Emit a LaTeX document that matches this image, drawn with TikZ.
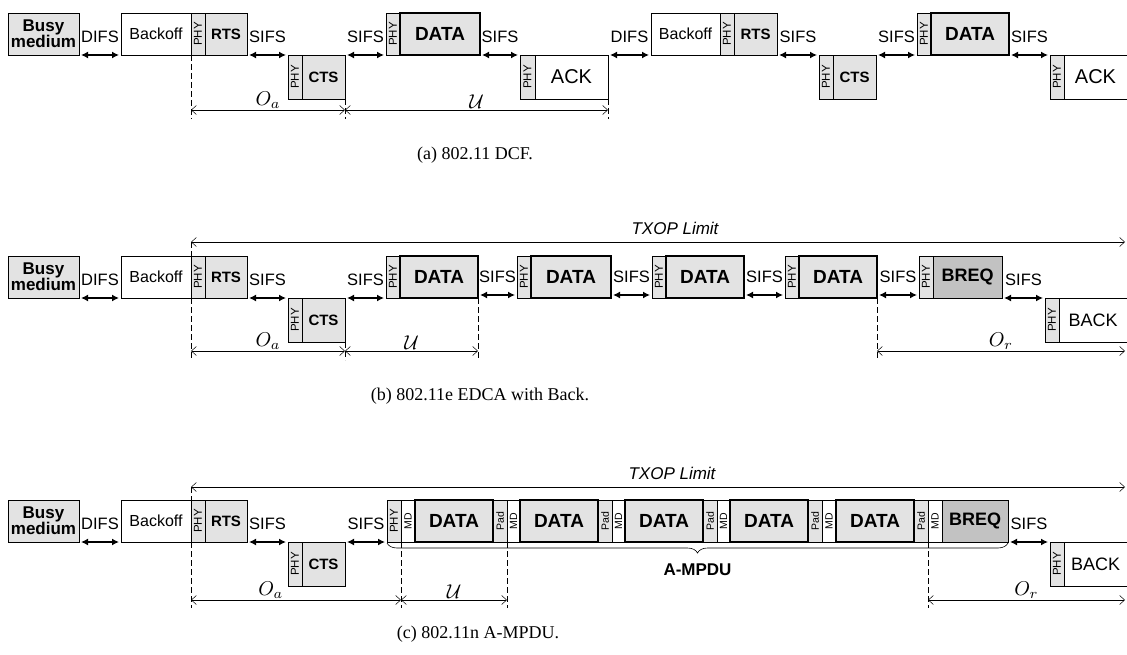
\documentclass[tikz,border=0pt]{standalone}
\usepackage{fontspec}
\setmainfont{Liberation Serif}
\setsansfont{Liberation Sans}
\usetikzlibrary{arrows.meta, decorations.pathreplacing}
\newcommand{\vtxt}[1]{\rotatebox{90}{#1}}
\newcommand{\ovl}[1]{\scalebox{2}{$#1$}}

\begin{document}
\begin{tikzpicture}[x=1pt, y=-1pt,
  fr/.style={draw, line width=0.6pt, inner sep=0pt, outer sep=0pt,
             anchor=north west, font=\sffamily\fontsize{16}{16}\selectfont},
  up/.style={fr, minimum height=42pt},
  dn/.style={fr, minimum height=44pt},
  htone/.style={fill=gray!22},
  busy/.style={up, htone, align=center, minimum width=71pt,
               font=\sffamily\bfseries\fontsize{17}{16}\selectfont},
  hdr/.style={htone, minimum width=14pt, font=\sffamily\fontsize{11.5}{11.5}\selectfont},
  dlm/.style={minimum width=14pt, font=\sffamily\fontsize{10.5}{10.5}\selectfont},
  ctl/.style={htone, font=\sffamily\bfseries\fontsize{15}{15}\selectfont},
  pay/.style={htone, line width=2pt, font=\sffamily\bfseries\fontsize{19}{19}\selectfont},
  req/.style={fill=gray!48, font=\sffamily\bfseries\fontsize{18}{18}\selectfont},
  opn/.style={dn, draw=none},
  gap/.style={line width=2pt, {Latex[length=7pt,width=7pt]}-{Latex[length=7pt,width=7pt]},
              shorten <=2pt, shorten >=2pt},
  ifs/.style={midway, above=11pt, inner sep=0pt,
              font=\sffamily\fontsize{16.5}{16.5}\selectfont},
  dim/.style={line width=0.5pt,
              {Straight Barb[length=5pt,width=9pt]}-{Straight Barb[length=5pt,width=9pt]}},
  tick/.style={line width=0.6pt, dash pattern=on 6pt off 3pt},
  ovh/.style={midway, above=1pt, inner sep=0pt},
  lim/.style={font=\sffamily\itshape\fontsize{17}{17}\selectfont},
  capt/.style={font=\fontsize{18}{18}\selectfont},
  brc/.style={decorate, line width=0.6pt, decoration={brace, mirror, amplitude=10pt}},
]
\useasboundingbox (0,0) rectangle (1127,655);

% (a) 802.11 DCF
\node[busy] (a-busy) at (8,13) {Busy\\medium};
\node[up, minimum width=70pt] (a-bo1) at (121,13) {Backoff};
\node[up, hdr] (a-h1) at (191,13) {\vtxt{PHY}};
\node[up, ctl, minimum width=42pt] (a-rts1) at (205,13) {RTS};
\node[dn, hdr] (a-h2) at (288,55) {\vtxt{PHY}};
\node[dn, ctl, minimum width=43pt] (a-cts1) at (302,55) {CTS};
\node[up, hdr] (a-h3) at (386,13) {\vtxt{PHY}};
\node[up, pay, minimum width=80pt] (a-d1) at (400,13) {DATA};
\node[dn, hdr, minimum width=15pt] (a-h4) at (520,55) {\vtxt{PHY}};
\node[dn, minimum width=73pt, font=\sffamily\fontsize{20}{20}\selectfont] (a-ack1) at (535,55) {ACK};
\node[up, minimum width=69pt] (a-bo2) at (651,13) {Backoff};
\node[up, hdr] (a-h5) at (720,13) {\vtxt{PHY}};
\node[up, ctl, minimum width=43pt] (a-rts2) at (734,13) {RTS};
\node[dn, hdr] (a-h6) at (819,55) {\vtxt{PHY}};
\node[dn, ctl, minimum width=43pt] (a-cts2) at (833,55) {CTS};
\node[up, hdr] (a-h7) at (917,13) {\vtxt{PHY}};
\node[up, pay, minimum width=78pt] (a-d2) at (931,13) {DATA};
\node[dn, hdr] (a-h8) at (1050,55) {\vtxt{PHY}};
\node[opn, minimum width=63pt, font=\sffamily\fontsize{20}{20}\selectfont] (a-ack2) at (1064,55) {ACK};
\draw[line width=0.6pt] (a-ack2.north west) -- (a-ack2.north east);
\draw[line width=0.6pt] (a-ack2.south west) -- (a-ack2.south east);

\draw[gap] (a-busy.south east) -- (a-bo1.south west) node[ifs] (a-l1) {DIFS};
\draw[gap] (a-rts1.south east) -- (a-h2.north west) node[ifs] (a-l2) {SIFS};
\draw[gap] (a-cts1.north east) -- (a-h3.south west) node[ifs] (a-l3) {SIFS};
\draw[gap] (a-d1.south east) -- (a-h4.north west) node[ifs] (a-l4) {SIFS};
\draw[gap] (a-ack1.north east) -- (a-bo2.south west) node[ifs] (a-l5) {DIFS};
\draw[gap] (a-rts2.south east) -- (a-h6.north west) node[ifs] (a-l6) {SIFS};
\draw[gap] (a-cts2.north east) -- (a-h7.south west) node[ifs] (a-l7) {SIFS};
\draw[gap] (a-d2.south east) -- (a-h8.north west) node[ifs] (a-l8) {SIFS};

\coordinate (a-dm) at (0,110);
\coordinate (a-lo) at (0,119);
\draw[tick] (a-h1.south west) -- (a-h1.south west |- a-lo);
\draw[tick] (a-cts1.south east) -- (a-cts1.south east |- a-lo);
\draw[tick] (a-ack1.south east) -- (a-ack1.south east |- a-lo);
\draw[dim] (a-h1.west |- a-dm) -- (a-cts1.east |- a-dm) node[ovh] (a-oa) {\ovl{O_a}};
\draw[dim] (a-cts1.east |- a-dm) -- (a-ack1.east |- a-dm) node[ovh] (a-u) {\ovl{\mathcal{U}}};
\node[capt] (a-cap) at (475,155) {(a) 802.11 DCF.};

% (b) 802.11e EDCA with Back
\begin{scope}[yshift=-243pt]
\coordinate (b-tx) at (0,-1);
\coordinate (b-txr) at (1125,-1);
\coordinate (b-dm) at (0,108);
\coordinate (b-lo) at (0,117);
\coordinate (b-end) at (1125,108);
\node[busy] (b-busy) at (8,13) {Busy\\medium};
\node[up, minimum width=70pt] (b-bo) at (121,13) {Backoff};
\node[up, hdr] (b-h1) at (191,13) {\vtxt{PHY}};
\node[up, ctl, minimum width=42pt] (b-rts) at (205,13) {RTS};
\node[dn, hdr] (b-h2) at (288,55) {\vtxt{PHY}};
\node[dn, ctl, minimum width=43pt] (b-cts) at (302,55) {CTS};
\node[up, hdr] (b-h3) at (386,13) {\vtxt{PHY}};
\node[up, pay, minimum width=78pt] (b-d1) at (400,13) {DATA};
\node[up, hdr] (b-h4) at (517,13) {\vtxt{PHY}};
\node[up, pay, minimum width=80pt] (b-d2) at (531,13) {DATA};
\node[up, hdr] (b-h5) at (652,13) {\vtxt{PHY}};
\node[up, pay, minimum width=78pt] (b-d3) at (666,13) {DATA};
\node[up, hdr] (b-h6) at (785,13) {\vtxt{PHY}};
\node[up, pay, minimum width=78pt] (b-d4) at (799,13) {DATA};
\node[up, hdr] (b-h7) at (919,13) {\vtxt{PHY}};
\node[up, req, minimum width=69pt] (b-rq) at (933,13) {BREQ};
\node[dn, hdr] (b-h8) at (1045,55) {\vtxt{PHY}};
\node[opn, minimum width=68pt, font=\sffamily\fontsize{18}{18}\selectfont] (b-bk) at (1059,55) {BACK};
\draw[line width=0.6pt] (b-bk.north west) -- (b-bk.north east);
\draw[line width=0.6pt] (b-bk.south west) -- (b-bk.south east);

\draw[gap] (b-busy.south east) -- (b-bo.south west) node[ifs] (b-l1) {DIFS};
\draw[gap] (b-rts.south east) -- (b-h2.north west) node[ifs] (b-l2) {SIFS};
\draw[gap] (b-cts.north east) -- (b-h3.south west) node[ifs] (b-l3) {SIFS};
\draw[gap] ([yshift=3pt]b-d1.south east) -- ([yshift=3pt]b-h4.south west) node[ifs] (b-l4) {SIFS};
\draw[gap] ([yshift=3pt]b-d2.south east) -- ([yshift=3pt]b-h5.south west) node[ifs] (b-l5) {SIFS};
\draw[gap] ([yshift=3pt]b-d3.south east) -- ([yshift=3pt]b-h6.south west) node[ifs] (b-l6) {SIFS};
\draw[gap] ([yshift=3pt]b-d4.south east) -- ([yshift=3pt]b-h7.south west) node[ifs] (b-l7) {SIFS};
\draw[gap] (b-rq.south east) -- (b-h8.north west) node[ifs] (b-l8) {SIFS};

\draw[dim] (b-h1.north west |- b-tx) -- (b-txr);
\node[lim] (b-lim) at (675,-15) {TXOP Limit};
\draw[tick] (b-h1.north west |- b-tx) -- (b-h1.north west);
\draw[tick] (b-h1.south west) -- (b-h1.south west |- b-lo);
\draw[tick] (b-cts.south east) -- (b-cts.south east |- b-lo);
\draw[tick] (b-d1.south east) -- (b-d1.south east |- b-lo);
\draw[tick] (b-d4.south east) -- (b-d4.south east |- b-lo);
\draw[dim] (b-h1.west |- b-dm) -- (b-cts.east |- b-dm) node[ovh] (b-oa) {\ovl{O_a}};
\draw[dim] (b-cts.east |- b-dm) -- (b-d1.east |- b-dm) node[ovh] (b-u) {\ovl{\mathcal{U}}};
\draw[dim] (b-d4.east |- b-dm) -- (b-end) node[ovh] (b-or) {\ovl{O_r}};
\node[capt] (b-cap) at (480,153) {(b) 802.11e EDCA with Back.};
\end{scope}

% (c) 802.11n A-MPDU
\begin{scope}[yshift=-487pt]
\coordinate (c-tx) at (0,0);
\coordinate (c-txr) at (1125,0);
\coordinate (c-dm) at (0,113);
\coordinate (c-lo) at (0,121);
\coordinate (c-end) at (1125,113);
\node[busy] (c-busy) at (8,13) {Busy\\medium};
\node[up, minimum width=70pt] (c-bo) at (121,13) {Backoff};
\node[up, hdr] (c-h1) at (191,13) {\vtxt{PHY}};
\node[up, ctl, minimum width=42pt] (c-rts) at (205,13) {RTS};
\node[dn, hdr] (c-h2) at (288,55) {\vtxt{PHY}};
\node[dn, ctl, minimum width=43pt] (c-cts) at (302,55) {CTS};
% A-MPDU subframes
\node[up, hdr] (c-h3) at (387,13) {\vtxt{PHY}};
\node[up, dlm] (c-m1) at (401,13) {\vtxt{MD}};
\node[up, pay, minimum width=78pt] (c-d1) at (415,13) {DATA};
\node[up, dlm, htone] (c-p1) at (493,13) {\vtxt{Pad}};
\node[up, dlm, minimum width=13pt] (c-m2) at (507,13) {\vtxt{MD}};
\node[up, pay, minimum width=78pt] (c-d2) at (520,13) {DATA};
\node[up, dlm, htone] (c-p2) at (598,13) {\vtxt{Pad}};
\node[up, dlm, minimum width=13pt] (c-m3) at (612,13) {\vtxt{MD}};
\node[up, pay, minimum width=78pt] (c-d3) at (625,13) {DATA};
\node[up, dlm, htone] (c-p3) at (703,13) {\vtxt{Pad}};
\node[up, dlm, minimum width=13pt] (c-m4) at (717,13) {\vtxt{MD}};
\node[up, pay, minimum width=78pt] (c-d4) at (730,13) {DATA};
\node[up, dlm, htone] (c-p4) at (808,13) {\vtxt{Pad}};
\node[up, dlm] (c-m5) at (822,13) {\vtxt{MD}};
\node[up, pay, minimum width=78pt] (c-d5) at (836,13) {DATA};
\node[up, dlm, htone] (c-p5) at (914,13) {\vtxt{Pad}};
\node[up, dlm] (c-m6) at (928,13) {\vtxt{MD}};
\node[up, req, minimum width=66pt] (c-rq) at (942,13) {BREQ};
\node[dn, hdr] (c-h4) at (1050,55) {\vtxt{PHY}};
\node[opn, minimum width=63pt, font=\sffamily\fontsize{18}{18}\selectfont] (c-bk) at (1064,55) {BACK};
\draw[line width=0.6pt] (c-bk.north west) -- (c-bk.north east);
\draw[line width=0.6pt] (c-bk.south west) -- (c-bk.south east);

\draw[gap] (c-busy.south east) -- (c-bo.south west) node[ifs] (c-l1) {DIFS};
\draw[gap] (c-rts.south east) -- (c-h2.north west) node[ifs] (c-l2) {SIFS};
\draw[gap] (c-cts.north east) -- (c-h3.south west) node[ifs] (c-l3) {SIFS};
\draw[gap] (c-rq.south east) -- (c-h4.north west) node[ifs] (c-l4) {SIFS};

\draw[brc] ([yshift=-1pt]c-h3.south west) -- ([yshift=-1pt]c-rq.south east)
  node[midway, below=21pt, inner sep=0pt, font=\sffamily\bfseries\fontsize{17}{17}\selectfont] (c-amp) {A-MPDU};

\draw[dim] (c-h1.north west |- c-tx) -- (c-txr);
\node[lim] (c-lim) at (672,-14) {TXOP Limit};
\draw[tick] (c-h1.north west |- c-tx) -- (c-h1.north west);
\draw[tick] (c-h1.south west) -- (c-h1.south west |- c-lo);
\draw[tick] (c-h3.south east) -- (c-h3.south east |- c-lo);
\draw[tick] (c-p1.south east) -- (c-p1.south east |- c-lo);
\draw[tick] (c-p5.south east) -- (c-p5.south east |- c-lo);
\draw[dim] (c-h1.west |- c-dm) -- (c-h3.east |- c-dm) node[ovh, pos=0.38] (c-oa) {\ovl{O_a}};
\draw[dim] (c-h3.east |- c-dm) -- (c-p1.east |- c-dm) node[ovh] (c-u) {\ovl{\mathcal{U}}};
\draw[dim] (c-p5.east |- c-dm) -- (c-end) node[ovh] (c-or) {\ovl{O_r}};
\node[capt] (c-cap) at (478,147) {(c) 802.11n A-MPDU.};
\end{scope}

\end{tikzpicture}
\end{document}
